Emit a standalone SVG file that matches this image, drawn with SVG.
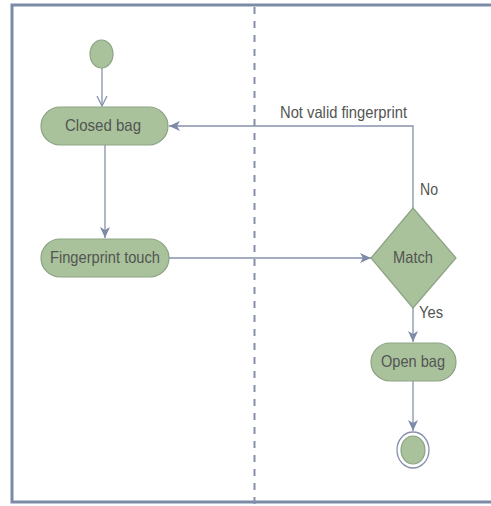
<svg xmlns="http://www.w3.org/2000/svg" width="491" height="506" viewBox="0 0 491 506">
  <style>
    .frame { fill: none; stroke: #7d8aa6; stroke-width: 3; }
    .lane { stroke: #8590a8; stroke-width: 2; stroke-dasharray: 7 7; }
    .node { fill: #a9c29c; stroke: #8ca383; stroke-width: 1.2; }
    .edge { fill: none; stroke: #8591ad; stroke-width: 1.3; }
    .label { font-family: "Liberation Sans", Arial, sans-serif; font-size: 16.5px; fill: #525552; }
    .mid { text-anchor: middle; }
  </style>
  <defs>
    <marker id="open" viewBox="0 0 12 12" refX="11" refY="6" markerWidth="12" markerHeight="12" markerUnits="userSpaceOnUse" orient="auto">
      <path d="M1,1 L11,6 L1,11" fill="none" stroke="#8591ad" stroke-width="1.3"/>
    </marker>
    <marker id="solid" viewBox="0 0 12 10" refX="11" refY="5" markerWidth="12" markerHeight="10" markerUnits="userSpaceOnUse" orient="auto">
      <path d="M0,0 L11,5 L0,10 L3,5 Z" fill="#7d8aa8"/>
    </marker>
  </defs>

  <rect width="491" height="506" fill="#ffffff"/>

  <!-- swimlane frame and divider -->
  <rect class="frame" x="12" y="5" width="490" height="497"/>
  <line class="lane" x1="254.5" y1="7" x2="254.5" y2="506"/>

  <!-- connectors -->
  <g id="connectors">
    <line class="edge" x1="102" y1="68" x2="102" y2="106" marker-end="url(#open)"/>
    <line class="edge" x1="105" y1="145" x2="105" y2="238" marker-end="url(#solid)"/>
    <line class="edge" x1="169" y1="258" x2="371" y2="258" marker-end="url(#solid)"/>
    <polyline class="edge" points="413,208 413,126 169,126" marker-end="url(#solid)"/>
    <line class="edge" x1="413" y1="308" x2="413" y2="342" marker-end="url(#solid)"/>
    <line class="edge" x1="413" y1="381" x2="413" y2="431" marker-end="url(#solid)"/>
    <text class="label" x="280" y="118" textLength="127" lengthAdjust="spacingAndGlyphs">Not valid fingerprint</text>
    <text class="label" x="420" y="195" textLength="18" lengthAdjust="spacingAndGlyphs">No</text>
    <text class="label" x="419" y="318" textLength="24" lengthAdjust="spacingAndGlyphs">Yes</text>
  </g>

  <g id="start">
    <ellipse class="node" cx="101.5" cy="54" rx="11.5" ry="14"/>
  </g>

  <g id="closed-bag">
    <rect class="node" x="41" y="107" width="127" height="38" rx="19" ry="19"/>
    <text class="label" x="65" y="131" textLength="76" lengthAdjust="spacingAndGlyphs">Closed bag</text>
  </g>

  <g id="fingerprint-touch">
    <rect class="node" x="41" y="239" width="128" height="38" rx="19" ry="19"/>
    <text class="label" x="50" y="263" textLength="110" lengthAdjust="spacingAndGlyphs">Fingerprint touch</text>
  </g>

  <g id="match">
    <polygon class="node" points="413,208 456,258 413,308 371,258"/>
    <text class="label" x="393" y="263" textLength="40" lengthAdjust="spacingAndGlyphs">Match</text>
  </g>

  <g id="open-bag">
    <rect class="node" x="371" y="343" width="85" height="38" rx="19" ry="19"/>
    <text class="label" x="381" y="367" textLength="64" lengthAdjust="spacingAndGlyphs">Open bag</text>
  </g>

  <g id="end">
    <ellipse cx="413" cy="450" rx="16" ry="18" fill="#ffffff" stroke="#8591ad" stroke-width="1.3"/>
    <ellipse class="node" cx="413" cy="450" rx="12" ry="14"/>
  </g>
</svg>
